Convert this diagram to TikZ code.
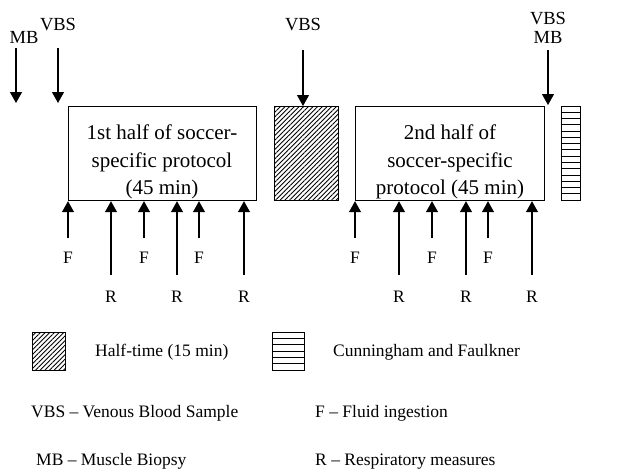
\documentclass[tikz,border=0pt]{standalone}
\usepackage{fontspec}
\setmainfont{Liberation Serif}
\usetikzlibrary{arrows.meta,patterns.meta}
\begin{document}
\begin{tikzpicture}[x=1pt,y=-1pt,
  txt/.style={font=\fontsize{17.5}{27}\selectfont, inner sep=0pt},
  boxtxt/.style={font=\fontsize{21}{27.3}\selectfont, inner sep=0pt, align=center},
  toptxt/.style={font=\fontsize{18.5}{22}\selectfont, inner sep=0pt, anchor=base},
  arr/.style={line width=1.2pt, -{Triangle[width=12pt,length=11pt]}},
  box/.style={draw, line width=1.2pt, inner sep=0pt, anchor=north west},
  hatch/.style={pattern={Lines[angle=45,distance=3.3pt,line width=0.9pt]}},
  stripe/.style={line width=0.9pt}
]
\useasboundingbox (0,0) rectangle (618,471);
% main boxes
\node[box, minimum width=188pt, minimum height=94pt] (b1) at (68,106) {};
\node[boxtxt] (t1) at (162,162) {1st half of soccer-\\specific protocol\\(45 min)};
\node[box, hatch, minimum width=64pt, minimum height=94pt] (ht) at (274,106) {};
\node[box, minimum width=189pt, minimum height=94pt] (b2) at (355,106) {};
\node[boxtxt] (t2) at (450,162) {2nd half of\\soccer-specific\\protocol (45 min)};
\node[box, minimum width=19pt, minimum height=94pt] (cf) at (561,106) {};
\foreach \i in {1,...,14}
  \draw[stripe] ([yshift=-\i*6.27pt]cf.north west) -- ([yshift=-\i*6.27pt]cf.north east);
% top labels and arrows
\node[toptxt] (mbA) at (24,43) {MB};
\node[toptxt] (vbsA) at (58,30) {VBS};
\node[toptxt] (vbsB) at (303,30) {VBS};
\node[toptxt] (vbsC) at (548,24) {VBS};
\node[toptxt] (mbC) at (548,43) {MB};
\coordinate (mbAs) at (16,48);   \coordinate (mbAe) at (16,103);
\coordinate (vbsAs) at (58,48);  \coordinate (vbsAe) at (58,103);
\coordinate (vbsBs) at (303,50);
\coordinate (vbsCs) at (548,50); \coordinate (vbsCe) at (548,105);
\draw[arr] (mbAs) -- (mbAe);
\draw[arr] (vbsAs) -- (vbsAe);
\draw[arr] (vbsBs) -- (vbsBs |- ht.north);
\draw[arr] (vbsCs) -- (vbsCe);
% bottom arrows, first half
\foreach \x/\n in {68/a,144/b,199/c} {
  \coordinate (F\n) at (\x,238);
  \node[txt, anchor=base] (Fl\n) at (\x,263) {F};
  \draw[arr] (F\n) -- (F\n |- b1.south);
}
\foreach \x/\n in {111/a,177/b,244/c} {
  \coordinate (R\n) at (\x,275);
  \node[txt, anchor=base] (Rl\n) at (\x,302) {R};
  \draw[arr] (R\n) -- (R\n |- b1.south);
}
% bottom arrows, second half
\foreach \x/\n in {355/d,432/e,488/f} {
  \coordinate (F\n) at (\x,238);
  \node[txt, anchor=base] (Fl\n) at (\x,263) {F};
  \draw[arr] (F\n) -- (F\n |- b2.south);
}
\foreach \x/\n in {399/d,466/e,532/f} {
  \coordinate (R\n) at (\x,275);
  \node[txt, anchor=base] (Rl\n) at (\x,302) {R};
  \draw[arr] (R\n) -- (R\n |- b2.south);
}
% legend
\node[box, hatch, minimum width=33pt, minimum height=38pt] (lh) at (32,332) {};
\node[txt, anchor=base west] (lht) at (95,356) {Half-time (15 min)};
\node[box, minimum width=32pt, minimum height=38pt] (ls) at (272,332) {};
\foreach \i in {1,...,5}
  \draw[stripe] ([yshift=-\i*6.33pt]ls.north west) -- ([yshift=-\i*6.33pt]ls.north east);
\node[txt, anchor=base west] (lst) at (333,356) {Cunningham and Faulkner};
\node[txt, anchor=base west] (lv) at (31,417) {VBS -- Venous Blood Sample};
\node[txt, anchor=base west] (lf) at (315,417) {F -- Fluid ingestion};
\node[txt, anchor=base west] (lm) at (36,465) {MB -- Muscle Biopsy};
\node[txt, anchor=base west] (lr) at (315,465) {R -- Respiratory measures};
\end{tikzpicture}
\end{document}
